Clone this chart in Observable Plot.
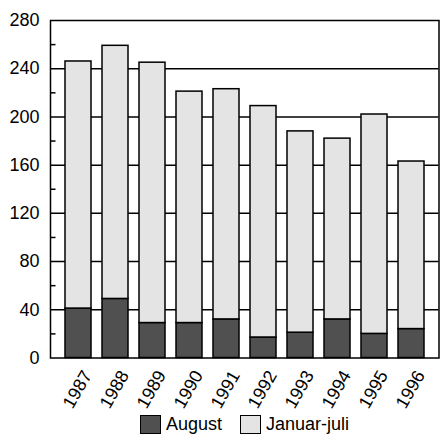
<!DOCTYPE html>
<html>
<head>
<meta charset="utf-8">
<script src="https://cdn.jsdelivr.net/npm/d3@7"></script>
<script src="https://cdn.jsdelivr.net/npm/@observablehq/plot@0.6"></script>
<style>
  html, body { margin: 0; padding: 0; background: #fff; }
  body { width: 440px; height: 442px; overflow: hidden; font-family: "Liberation Sans", Arial, sans-serif; }
  #legend { position: relative; height: 30px; font-size: 18px; color: #000; }
  .item { position: absolute; top: 2px; display: flex; align-items: center; }
  .sw { width: 21px; height: 19px; border: 1.5px solid #000; box-sizing: border-box; margin-right: 5px; }
</style>
</head>
<body>
<div id="chart"></div>
<div id="legend">
  <div class="item" style="left:140px"><div class="sw" style="background:#505050"></div><span>August</span></div>
  <div class="item" style="left:240px"><div class="sw" style="background:#e4e4e4"></div><span>Januar-juli</span></div>
</div>
<script>
const years = ["1987","1988","1989","1990","1991","1992","1993","1994","1995","1996"];
const august = [41, 49, 29, 29, 32, 17, 21, 32, 20, 24];
const januarJuli = [205, 210, 216, 192, 191, 192, 167, 150, 182, 139];
const series = ["August", "Januar-juli"];
const yTicks = [0, 40, 80, 120, 160, 200, 240, 280];
const yMinor = [20, 60, 100, 140, 180, 220, 260];
const colors = ["#505050", "#e4e4e4"];

const rows = [];
years.forEach((y, i) => {
  rows.push({year: y, series: series[0], value: august[i]});
  rows.push({year: y, series: series[1], value: januarJuli[i]});
});

const chart = Plot.plot({
  width: 440,
  height: 412,
  marginTop: 20,
  marginBottom: 54.5,
  marginLeft: 50,
  marginRight: 1.5,
  style: {fontFamily: "'Liberation Sans', Arial, sans-serif", fontSize: "18px", color: "#000", background: "#fff"},
  x: {domain: years, range: [58.4, 430.4], paddingInner: 0.3, paddingOuter: 0.15, axis: null},
  y: {domain: [0, 280], axis: null},
  color: {domain: series, range: colors},
  marks: [
    Plot.ruleY(yTicks.slice(1, -1), {stroke: "#000", strokeWidth: 1.5}),
    Plot.tickY(yMinor, {frameAnchor: "left", x: null, stroke: "#000", strokeWidth: 1.5, insetRight: 383}),
    Plot.barY(rows, {x: "year", y: "value", fill: "series", stroke: "#000", strokeWidth: 1.5, order: series}),
    Plot.frame({stroke: "#000", strokeWidth: 1.5}),
    Plot.text(yTicks, {y: d => d, frameAnchor: "left", textAnchor: "end", dx: -11, text: d => String(d), fontSize: 18}),
    Plot.text(years, {x: d => d, frameAnchor: "bottom", rotate: -60, textAnchor: "end", lineAnchor: "bottom", dx: 14, dy: 17, text: d => d, fontSize: 18})
  ]
});
document.getElementById("chart").appendChild(chart);
</script>
</body>
</html>
